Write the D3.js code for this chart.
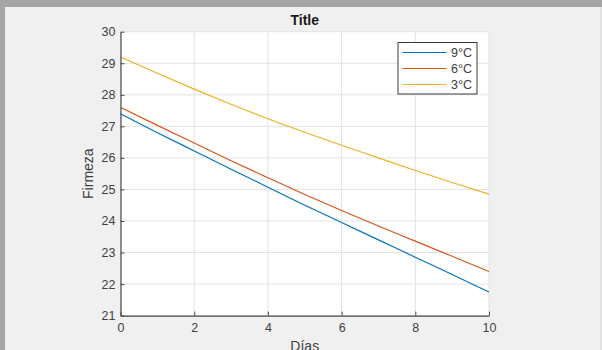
<!DOCTYPE html>
<html>
<head>
<meta charset="utf-8">
<script src="https://cdn.jsdelivr.net/npm/d3@7"></script>
<style>
  html, body { margin: 0; padding: 0; background: #f0f0f0; }
  svg { display: block; font-family: "Liberation Sans", Arial, Helvetica, sans-serif; }
</style>
</head>
<body>
<svg id="chart" width="602" height="350"></svg>
<script>
// Firmness over storage days at three temperatures
const dias = [0, 1, 2, 3, 4, 5, 6, 7, 8, 9, 10];
const firmeza9 = [27.40, 26.80, 26.22, 25.64, 25.07, 24.50, 23.95, 23.40, 22.85, 22.30, 21.75];
const firmeza6 = [27.60, 27.03, 26.47, 25.91, 25.37, 24.84, 24.33, 23.84, 23.36, 22.88, 22.40];
const firmeza3 = [29.20, 28.68, 28.18, 27.70, 27.24, 26.81, 26.40, 26.00, 25.60, 25.22, 24.85];
const seriesNames = ["9°C", "6°C", "3°C"];
const seriesColors = ["#0072BD", "#D95319", "#EDB120"];
const xTicks = [0, 2, 4, 6, 8, 10];
const yTicks = [21, 22, 23, 24, 25, 26, 27, 28, 29, 30];

const series = [firmeza9, firmeza6, firmeza3].map((vals, i) => ({
  name: seriesNames[i],
  color: seriesColors[i],
  points: dias.map((d, j) => ({ x: d, y: vals[j] }))
}));

const svg = d3.select("#chart");
const W = 602, H = 350;
const plot = { left: 120.5, right: 489, top: 31.7, bottom: 315.6 };

// window frame
svg.append("rect").attr("x", 0).attr("y", 0).attr("width", W).attr("height", H).attr("fill", "#f0f0f0");
svg.append("rect").attr("x", 0).attr("y", 0).attr("width", W).attr("height", 7).attr("fill", "#a5a5a5");
svg.append("rect").attr("x", 0).attr("y", 0).attr("width", 5).attr("height", H).attr("fill", "#a5a5a5");
svg.append("rect").attr("x", 600).attr("y", 7).attr("width", 2).attr("height", H - 7).attr("fill", "#e2e2e2");

const x = d3.scaleLinear().domain([0, 10]).range([plot.left, plot.right]);
const y = d3.scaleLinear().domain([21, 30]).range([plot.bottom, plot.top]);

// plot area
svg.append("rect")
  .attr("x", plot.left).attr("y", plot.top)
  .attr("width", plot.right - plot.left).attr("height", plot.bottom - plot.top)
  .attr("fill", "#ffffff");

// grid
const grid = svg.append("g").attr("stroke", "#e3e3e3").attr("stroke-width", 1);
grid.selectAll("line.vx").data(xTicks).join("line")
  .attr("x1", d => x(d)).attr("x2", d => x(d))
  .attr("y1", plot.top).attr("y2", plot.bottom);
grid.selectAll("line.hy").data(yTicks).join("line")
  .attr("x1", plot.left).attr("x2", plot.right)
  .attr("y1", d => y(d)).attr("y2", d => y(d));

// series lines
const line = d3.line().x(d => x(d.x)).y(d => y(d.y)).curve(d3.curveMonotoneX);
svg.append("g").selectAll("path").data(series).join("path")
  .attr("d", d => line(d.points))
  .attr("fill", "none")
  .attr("stroke", d => d.color)
  .attr("stroke-width", 1.15);

// axes with inward ticks
const axisColor = "#4a4a4a";
const gx = svg.append("g").attr("transform", `translate(0,${plot.bottom})`)
  .call(d3.axisBottom(x).tickValues(xTicks).tickFormat(d3.format("d"))
    .tickSizeInner(-4).tickSizeOuter(0).tickPadding(8));
const gy = svg.append("g").attr("transform", `translate(${plot.left},0)`)
  .call(d3.axisLeft(y).tickValues(yTicks).tickFormat(d3.format("d"))
    .tickSizeInner(-4).tickSizeOuter(0).tickPadding(5));
[gx, gy].forEach(g => {
  g.select(".domain").attr("stroke", axisColor).attr("stroke-width", 1.2);
  g.selectAll(".tick line").attr("stroke", axisColor).attr("stroke-width", 1);
  g.selectAll(".tick text").attr("fill", "#404040")
    .style("font-size", "12.5px").style("font-family", "'Liberation Sans', Arial, sans-serif");
});

// title and labels
svg.append("text").attr("x", (plot.left + plot.right) / 2).attr("y", 25)
  .attr("text-anchor", "middle").attr("font-weight", "bold").attr("font-size", 14)
  .attr("fill", "#1a1a1a").text("Title");
svg.append("text").attr("x", (plot.left + plot.right) / 2).attr("y", 351)
  .attr("text-anchor", "middle").attr("font-size", 14).attr("fill", "#404040").text("Días");
svg.append("text")
  .attr("transform", `translate(93,${(plot.top + plot.bottom) / 2}) rotate(-90)`)
  .attr("text-anchor", "middle").attr("font-size", 14).attr("fill", "#404040").text("Firmeza");

// legend
const leg = svg.append("g").attr("transform", "translate(398,42.5)");
leg.append("rect").attr("width", 79).attr("height", 51.5)
  .attr("fill", "#ffffff").attr("stroke", "#3a3a3a").attr("stroke-width", 1);
const rows = leg.selectAll("g.row").data(series).join("g")
  .attr("transform", (d, i) => `translate(0,${10 + i * 16})`);
rows.append("line").attr("x1", 4.5).attr("x2", 48.5).attr("y1", 0).attr("y2", 0)
  .attr("stroke", d => d.color).attr("stroke-width", 1.2);
rows.append("text").attr("x", 53).attr("y", 4.5).attr("font-size", 12.5)
  .attr("fill", "#404040").text(d => d.name);
</script>
</body>
</html>
